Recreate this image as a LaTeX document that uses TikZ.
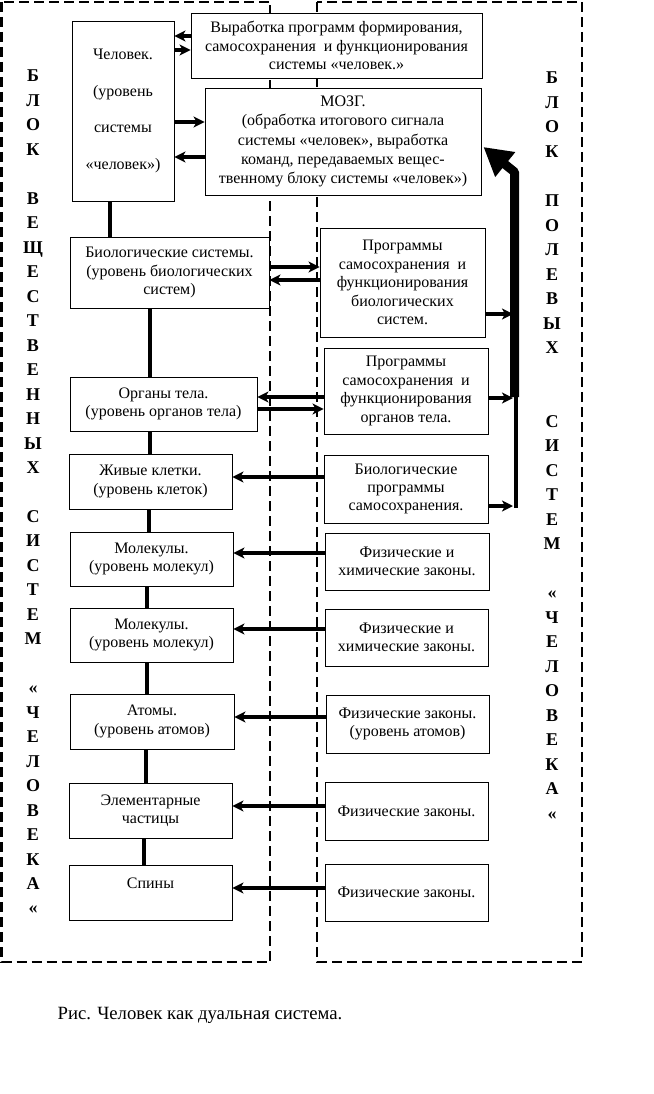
\documentclass[tikz,border=0pt]{standalone}
\usepackage{fontspec}
\setmainfont{Liberation Serif}
\usetikzlibrary{arrows.meta,calc}
\tikzset{
  box/.style={draw, fill=white, line width=0.9pt, inner sep=0pt, align=center,
    font=\fontsize{16pt}{18.4pt}\selectfont},
  arr/.style={line width=3.5pt, -{Stealth[length=11pt,width=11pt,inset=3pt]}},
  vlink/.style={line width=4pt},
  blockline/.style={line width=2.8pt, dash pattern=on 10pt off 5pt},
  sideletter/.style={font=\fontsize{18pt}{18pt}\selectfont\bfseries, anchor=base, inner sep=0pt},
  bigarrow/.style={line width=9pt, line join=round, -{Triangle[length=28pt,width=30pt]}},
}
\begin{document}
\begin{tikzpicture}[x=1pt,y=-1pt]
\useasboundingbox (0,0) rectangle (653,1094);
% dashed blocks
\draw[blockline] (1.5,2) rectangle (270,962);
\draw[blockline] (317,2) rectangle (582,962);

% boxes
\node[box, minimum width=102pt, minimum height=180pt, font=\fontsize{16pt}{36.7pt}\selectfont] (chel) at (123,111)
  {Человек.\\(уровень\\системы\\«человек»)};
\node[box, minimum width=291pt, minimum height=65pt] (vyr) at (336.5,45.5)
  {Выработка программ формирования,\\самосохранения~ и функционирования\\системы «человек.»};
\node[box, minimum width=276pt, minimum height=107pt, font=\fontsize{16pt}{19.2pt}\selectfont] (mozg) at (343,141.5)
  {МОЗГ.\\(обработка итогового сигнала\\системы «человек», выработка\\команд, передаваемых вещес-\\твенному блоку системы «человек»)};
\node[box, minimum width=199pt, minimum height=71pt] (bio) at (169.5,272.5)
  {Биологические системы.\\(уровень биологических\\систем)};
\node[box, minimum width=165pt, minimum height=109pt] (pbio) at (402.5,282.5)
  {Программы\\самосохранения~ и\\функционирования\\биологических\\систем.};
\node[box, minimum width=187pt, minimum height=54pt] (org) at (163.5,404)
  {Органы тела.\\(уровень органов тела)};
\node[box, minimum width=164pt, minimum height=86pt] (porg) at (406,391)
  {Программы\\самосохранения~ и\\функционирования\\органов тела.};
\node[box, minimum width=163pt, minimum height=55pt] (cell) at (150.5,481.5)
  {Живые клетки.\\(уровень клеток)};
\node[box, minimum width=164pt, minimum height=68pt] (bprog) at (406,489)
  {Биологические\\программы\\самосохранения.};
\node[box, minimum width=163pt, minimum height=54pt] (mol1) at (151.5,559)
  {Молекулы.\\(уровень молекул)};
\node[box, minimum width=164pt, minimum height=57pt] (fh1) at (407,561.5)
  {Физические и\\химические законы.};
\node[box, minimum width=163pt, minimum height=54pt] (mol2) at (151.5,635)
  {Молекулы.\\(уровень молекул)};
\node[box, minimum width=163pt, minimum height=57pt] (fh2) at (406.5,637.5)
  {Физические и\\химические законы.};
\node[box, minimum width=164pt, minimum height=55pt] (atom) at (152,721.5)
  {Атомы.\\(уровень атомов)};
\node[box, minimum width=163pt, minimum height=58pt] (fa) at (407.5,724)
  {Физические законы.\\(уровень атомов)};
\node[box, minimum width=163pt, minimum height=55pt] (elem) at (150.5,810.5)
  {Элементарные\\частицы};
\node[box, minimum width=163pt, minimum height=58pt] (f1) at (406.5,811)
  {Физические законы.};
\node[box, minimum width=163pt, minimum height=55pt] (spin) at (150.5,892.5)
  {Спины\\\mbox{}};
\node[box, minimum width=163pt, minimum height=57pt] (f2) at (406.5,892.5)
  {Физические законы.};

% vertical links
\draw[vlink] (chel.south -| 110,0) -- (bio.north -| 110,0);
\draw[vlink] (bio.south -| 150,0) -- (org.north -| 150,0);
\draw[vlink] (org.south -| 150,0) -- (cell.north -| 150,0);
\draw[vlink] (cell.south -| 149,0) -- (mol1.north -| 149,0);
\draw[vlink] (mol1.south -| 147,0) -- (mol2.north -| 147,0);
\draw[vlink] (mol2.south -| 147,0) -- (atom.north -| 147,0);
\draw[vlink] (atom.south -| 146,0) -- (elem.north -| 146,0);
\draw[vlink] (elem.south -| 144,0) -- (spin.north -| 144,0);

% horizontal arrows
\draw[arr] (vyr.west |- 0,36) -- (chel.east |- 0,36);
\draw[arr] (chel.east |- 0,50) -- (vyr.west |- 0,50);
\draw[arr] (chel.east |- 0,122) -- (mozg.west |- 0,122);
\draw[arr] (mozg.west |- 0,157) -- (chel.east |- 0,157);
\draw[arr] (bio.east |- 0,267) -- (pbio.west |- 0,267);
\draw[arr] (pbio.west |- 0,280) -- (bio.east |- 0,280);
\draw[arr] (porg.west |- 0,397) -- (org.east |- 0,397);
\draw[arr] (org.east |- 0,409) -- (porg.west |- 0,409);
\draw[arr] (bprog.west |- 0,477) -- (cell.east |- 0,477);
\draw[arr] (fh1.west |- 0,553) -- (mol1.east |- 0,553);
\draw[arr] (fh2.west |- 0,629) -- (mol2.east |- 0,629);
\draw[arr] (fa.west |- 0,717) -- (atom.east |- 0,717);
\draw[arr] (f1.west |- 0,806) -- (elem.east |- 0,806);
\draw[arr] (f2.west |- 0,888) -- (spin.east |- 0,888);

% bus on the right
\coordinate (bt1) at (513,314);
\coordinate (bt2) at (513,398);
\coordinate (bt3) at (513,506);
\coordinate (bbend) at (514.5,172);
\draw[line width=4.5pt] (516,311.5) -- (516,508);
\draw[arr] (pbio.east |- bt1) -- (bt1);
\draw[arr] (porg.east |- bt2) -- (bt2);
\draw[arr] (bprog.east |- bt3) -- (bt3);
\draw[bigarrow] (514.5,397) -- (bbend) -- ($(mozg.east)+(2,5.5)$);

% side letters
\foreach \i/\ch in {0/Б,1/Л,2/О,3/К,5/В,6/Е,7/Щ,8/Е,9/С,10/Т,11/В,12/Е,13/Н,14/Н,15/Ы,16/Х,18/С,19/И,20/С,21/Т,22/Е,23/М,25/«,26/Ч,27/Е,28/Л,29/О,30/В,31/Е,32/К,33/А,34/«}
  \node[sideletter] (L\i) at (33,{82+24.47*\i}) {\ch};
\foreach \i/\ch in {0/Б,1/Л,2/О,3/К,5/П,6/О,7/Л,8/Е,9/В,10/Ы,11/Х,14/С,15/И,16/С,17/Т,18/Е,19/М,21/«,22/Ч,23/Е,24/Л,25/О,26/В,27/Е,28/К,29/А,30/«}
  \node[sideletter] (R\i) at (552,{84+24.5*\i}) {\ch};

% caption
\node[font=\fontsize{18.7pt}{22pt}\selectfont, anchor=base, inner sep=0pt] (cap) at (200,1019)
  {Рис. Человек как дуальная система.};
\end{tikzpicture}
\end{document}
